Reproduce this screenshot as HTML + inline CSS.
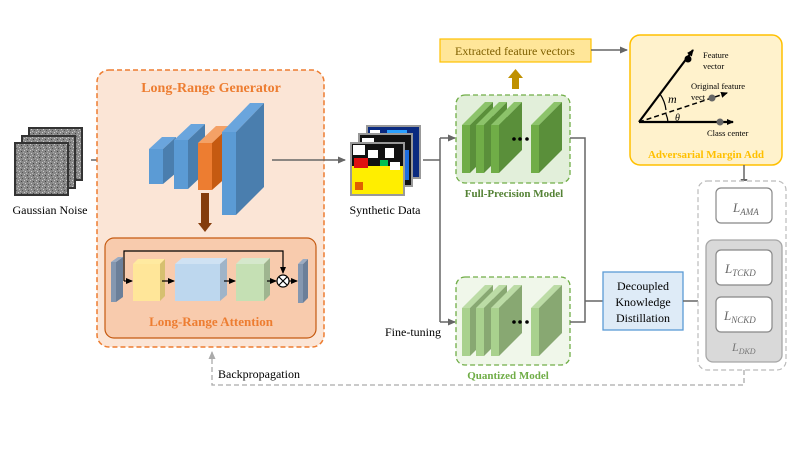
<!DOCTYPE html>
<html><head><meta charset="utf-8"><style>
html,body{margin:0;padding:0;background:#fff}
svg{display:block}
text{font-family:"Liberation Serif",serif}
</style></head><body>
<svg width="797" height="449" viewBox="0 0 797 449" xmlns="http://www.w3.org/2000/svg">
<defs>
<marker id="ag" markerWidth="8" markerHeight="8" refX="7" refY="4" orient="auto" markerUnits="userSpaceOnUse"><path d="M0,0.5 L8,4 L0,7.5z" fill="#666"/></marker>
<marker id="ak" markerWidth="7" markerHeight="7" refX="6" refY="3.5" orient="auto" markerUnits="userSpaceOnUse"><path d="M0,0.5 L7,3.5 L0,6.5z" fill="#000"/></marker>
<marker id="al" markerWidth="8" markerHeight="8" refX="7" refY="4" orient="auto" markerUnits="userSpaceOnUse"><path d="M0,0.5 L8,4 L0,7.5z" fill="#aaa"/></marker>
<pattern id="noise" width="6" height="6" patternUnits="userSpaceOnUse"><rect width="6" height="6" fill="#888"/><rect x="0" y="0" width="1" height="1" fill="#ccc"/><rect x="3" y="1" width="1" height="1" fill="#444"/><rect x="1" y="3" width="1" height="1" fill="#ccc"/><rect x="4" y="4" width="1" height="1" fill="#555"/><rect x="2" y="5" width="1" height="1" fill="#bbb"/><rect x="5" y="2" width="1" height="1" fill="#aaa"/></pattern>
</defs>

<!-- Gaussian noise -->
<rect x="29" y="128" width="53" height="52" fill="url(#noise)" stroke="#333" stroke-width="2"/>
<rect x="22" y="136" width="53" height="52" fill="url(#noise)" stroke="#333" stroke-width="2"/>
<rect x="15" y="143" width="53" height="52" fill="url(#noise)" stroke="#333" stroke-width="2"/>
<text x="50" y="214" font-size="12" text-anchor="middle">Gaussian Noise</text>
<line x1="91" y1="160" x2="145" y2="160" stroke="#666" stroke-width="1.5" marker-end="url(#ag)"/>

<!-- Generator -->
<rect x="97" y="70" width="227" height="277" rx="12" fill="#fbe5d6" stroke="#ed7d31" stroke-width="1.5" stroke-dasharray="5,3"/>
<text x="211" y="92" font-size="14" font-weight="bold" fill="#ed7d31" text-anchor="middle">Long-Range Generator</text>
<polygon points="149,149 163,149 176,137 162,137" fill="#6aa5dd"/>
<polygon points="163,149 176,137 176,173 163,184" fill="#4a7eae"/>
<rect x="149" y="149" width="14" height="35" fill="#5b9bd5"/>
<polygon points="174,140 188,140 205,124 191,124" fill="#6aa5dd"/>
<polygon points="188,140 205,124 205,173 188,189" fill="#4a7eae"/>
<rect x="174" y="140" width="14" height="49" fill="#5b9bd5"/>
<polygon points="198,143 212,143 230,126 216,126" fill="#f4a166"/>
<polygon points="212,143 230,126 230,174 212,190" fill="#c55a11"/>
<rect x="198" y="143" width="14" height="47" fill="#ed7d31"/>
<polygon points="222,132 236,132 264,103 250,103" fill="#6aa5dd"/>
<polygon points="236,132 264,103 264,187 236,215" fill="#4a7eae"/>
<rect x="222" y="132" width="14" height="83" fill="#5b9bd5"/>
<rect x="201" y="193" width="8" height="30" fill="#843c0c"/>
<polygon points="198,223 212,223 205,232" fill="#843c0c"/>
<line x1="272" y1="160" x2="345" y2="160" stroke="#666" stroke-width="1.5" marker-end="url(#ag)"/>

<!-- Attention -->
<rect x="105" y="238" width="211" height="100" rx="9" fill="#f8cbad" stroke="#c55a11" stroke-width="1.2"/>
<rect x="111" y="262" width="5" height="40" fill="#8497b0"/><polygon points="116,262 123,257 123,297 116,302" fill="#6b7f99"/><polygon points="111,262 116,262 123,257 118,257" fill="#9aabc2"/>
<polygon points="133,264 160,264 165,259 138,259" fill="#ffeaa0"/>
<rect x="133" y="264" width="27" height="37" fill="#ffe699"/><polygon points="160,264 165,259 165,296 160,301" fill="#d6c070"/>
<polygon points="175,264 220,264 227,258 182,258" fill="#cfe2f3"/>
<rect x="175" y="264" width="45" height="37" fill="#bdd7ee"/><polygon points="220,264 227,258 227,295 220,301" fill="#9fb4c8"/>
<polygon points="236,264 264,264 270,258 242,258" fill="#d5e8cc"/>
<rect x="236" y="264" width="28" height="37" fill="#c5e0b4"/><polygon points="264,264 270,258 270,295 264,301" fill="#9fb590"/>
<rect x="298" y="264" width="5" height="39" fill="#8497b0"/><polygon points="303,264 308,259 308,298 303,303" fill="#6b7f99"/><polygon points="298,264 303,264 308,259 303,259" fill="#9aabc2"/>
<polyline points="124,281 124,251 283,251 283,273" fill="none" stroke="#000" stroke-width="1.2" marker-end="url(#ak)"/>
<line x1="124" y1="281" x2="132" y2="281" stroke="#000" stroke-width="1.2" marker-end="url(#ak)"/>
<line x1="162" y1="281" x2="174" y2="281" stroke="#000" stroke-width="1.2" marker-end="url(#ak)"/>
<line x1="224" y1="281" x2="235" y2="281" stroke="#000" stroke-width="1.2" marker-end="url(#ak)"/>
<line x1="267" y1="281" x2="276" y2="281" stroke="#000" stroke-width="1.2" marker-end="url(#ak)"/>
<circle cx="283" cy="281" r="6" fill="#fff" stroke="#000" stroke-width="1.2"/>
<path d="M279,277 L287,285 M287,277 L279,285" stroke="#000" stroke-width="1.2"/>
<line x1="289" y1="281" x2="297" y2="281" stroke="#000" stroke-width="1.2" marker-end="url(#ak)"/>
<text x="211" y="326" font-size="13" font-weight="bold" fill="#ed7d31" text-anchor="middle">Long-Range Attention</text>

<!-- Synthetic data -->
<rect x="367" y="126" width="53" height="52" fill="#0a2a80" stroke="#999" stroke-width="2"/>
<rect x="387" y="130" width="20" height="20" fill="#2aa0ff"/><rect x="370" y="130" width="10" height="8" fill="#fff"/>
<rect x="359" y="134" width="53" height="52" fill="#111" stroke="#999" stroke-width="2"/>
<rect x="362" y="138" width="12" height="8" fill="#fff"/><rect x="395" y="150" width="14" height="30" fill="#1e6fe0"/>
<rect x="351" y="143" width="53" height="52" fill="#ffee00" stroke="#999" stroke-width="2"/>
<rect x="352" y="144" width="51" height="22" fill="#111"/>
<rect x="353" y="145" width="12" height="10" fill="#fff"/><rect x="368" y="150" width="10" height="8" fill="#fff"/><rect x="385" y="148" width="9" height="10" fill="#fff"/>
<rect x="354" y="158" width="14" height="10" fill="#e01010"/><rect x="380" y="160" width="8" height="6" fill="#00c050"/><rect x="390" y="162" width="10" height="8" fill="#fff"/>
<rect x="355" y="182" width="8" height="8" fill="#e06000"/>
<text x="385" y="214" font-size="12" text-anchor="middle">Synthetic Data</text>

<polyline points="423,160 440,160" fill="none" stroke="#666" stroke-width="1.5"/>
<line x1="440" y1="138" x2="440" y2="322" stroke="#666" stroke-width="1.5"/>
<line x1="440" y1="138" x2="455" y2="138" stroke="#666" stroke-width="1.5" marker-end="url(#ag)"/>
<line x1="440" y1="322" x2="455" y2="322" stroke="#666" stroke-width="1.5" marker-end="url(#ag)"/>
<text x="385" y="336" font-size="12">Fine-tuning</text>

<!-- Full precision -->
<rect x="456" y="95" width="114" height="88" rx="9" fill="#e2efda" stroke="#70ad47" stroke-width="1.3" stroke-dasharray="5,3"/>
<g id="fp">
<polygon points="462,125 470,125 493,102 485,102" fill="#8cc36a"/><polygon points="470,125 493,102 493,150 470,173" fill="#5a8f3a"/><rect x="462" y="125" width="8" height="48" fill="#70ad47"/>
<polygon points="476,125 484,125 507,102 499,102" fill="#8cc36a"/><polygon points="484,125 507,102 507,150 484,173" fill="#5a8f3a"/><rect x="476" y="125" width="8" height="48" fill="#70ad47"/>
<polygon points="491,125 499,125 522,102 514,102" fill="#8cc36a"/><polygon points="499,125 522,102 522,150 499,173" fill="#5a8f3a"/><rect x="491" y="125" width="8" height="48" fill="#70ad47"/>
<polygon points="531,125 539,125 562,102 554,102" fill="#8cc36a"/><polygon points="539,125 562,102 562,150 539,173" fill="#5a8f3a"/><rect x="531" y="125" width="8" height="48" fill="#70ad47"/>
</g>
<circle cx="514" cy="139" r="1.8" fill="#000"/><circle cx="520" cy="139" r="1.8" fill="#000"/><circle cx="527" cy="139" r="1.8" fill="#000"/>
<text x="514" y="197" font-size="11" font-weight="bold" fill="#548235" text-anchor="middle">Full-Precision Model</text>

<!-- Quantized -->
<rect x="456" y="277" width="114" height="88" rx="9" fill="#f0f7ea" stroke="#70ad47" stroke-width="1.3" stroke-dasharray="5,3"/>
<g>
<polygon points="462,308 470,308 493,285 485,285" fill="#bcdca6"/><polygon points="470,308 493,285 493,333 470,356" fill="#88a872"/><rect x="462" y="308" width="8" height="48" fill="#a9d18e"/>
<polygon points="476,308 484,308 507,285 499,285" fill="#bcdca6"/><polygon points="484,308 507,285 507,333 484,356" fill="#88a872"/><rect x="476" y="308" width="8" height="48" fill="#a9d18e"/>
<polygon points="491,308 499,308 522,285 514,285" fill="#bcdca6"/><polygon points="499,308 522,285 522,333 499,356" fill="#88a872"/><rect x="491" y="308" width="8" height="48" fill="#a9d18e"/>
<polygon points="531,308 539,308 562,285 554,285" fill="#bcdca6"/><polygon points="539,308 562,285 562,333 539,356" fill="#88a872"/><rect x="531" y="308" width="8" height="48" fill="#a9d18e"/>
</g>
<circle cx="514" cy="322" r="1.8" fill="#000"/><circle cx="520" cy="322" r="1.8" fill="#000"/><circle cx="527" cy="322" r="1.8" fill="#000"/>
<text x="508" y="379" font-size="11" font-weight="bold" fill="#70ad47" text-anchor="middle">Quantized Model</text>

<!-- Extracted -->
<rect x="440" y="39" width="151" height="23" fill="#ffe699" stroke="#ffc000" stroke-width="1.2"/>
<text x="515" y="55" font-size="12" fill="#7f6000" text-anchor="middle">Extracted feature vectors</text>
<rect x="512" y="77" width="7" height="12" fill="#bf9000"/><polygon points="508,78 523,78 515.5,69" fill="#bf9000"/>
<line x1="591" y1="50" x2="627" y2="50" stroke="#666" stroke-width="1.5" marker-end="url(#ag)"/>

<!-- AMA -->
<rect x="630" y="35" width="152" height="130" rx="10" fill="#fff2cc" stroke="#ffc000" stroke-width="1.5"/>
<line x1="639" y1="122" x2="693" y2="50" stroke="#000" stroke-width="2.2" marker-end="url(#ak)"/>
<circle cx="688" cy="59" r="3.5" fill="#000"/>
<line x1="639" y1="122" x2="727" y2="93" stroke="#000" stroke-width="1.5" stroke-dasharray="5,3" marker-end="url(#ak)"/>
<circle cx="712" cy="98" r="3.5" fill="#666"/>
<line x1="639" y1="122" x2="733" y2="122" stroke="#000" stroke-width="2.2" marker-end="url(#ak)"/>
<circle cx="720" cy="122" r="3.5" fill="#666"/>
<path d="M660,94 A36,36 0 0 1 666,110" fill="none" stroke="#000" stroke-width="1.2"/>
<path d="M666,114 A28,28 0 0 1 668,122" fill="none" stroke="#000" stroke-width="1.2"/>
<text x="668" y="103" font-size="12" font-style="italic">m</text>
<text x="675" y="121" font-size="10" font-style="italic">θ</text>
<text x="703" y="58" font-size="8.5">Feature</text>
<text x="703" y="69" font-size="8.5">vector</text>
<text x="691" y="89" font-size="8.5">Original feature</text>
<text x="691" y="100" font-size="8.5">vect</text>
<text x="707" y="136" font-size="8.5">Class center</text>
<text x="706" y="158" font-size="11" font-weight="bold" fill="#ffc000" text-anchor="middle">Adversarial Margin Add</text>
<line x1="744" y1="165" x2="744" y2="186" stroke="#666" stroke-width="1.5" marker-end="url(#ag)"/>

<!-- connectors to DKD -->
<polyline points="570,138 585,138 585,322 570,322" fill="none" stroke="#666" stroke-width="1.5"/>
<line x1="585" y1="301" x2="603" y2="301" stroke="#666" stroke-width="1.5"/>
<rect x="603" y="272" width="80" height="58" fill="#deebf7" stroke="#5b9bd5" stroke-width="1.3"/>
<text x="643" y="290" font-size="12" text-anchor="middle">Decoupled</text>
<text x="643" y="306" font-size="12" text-anchor="middle">Knowledge</text>
<text x="643" y="322" font-size="12" text-anchor="middle">Distillation</text>
<line x1="683" y1="301" x2="705" y2="301" stroke="#666" stroke-width="1.5" marker-end="url(#ag)"/>

<!-- losses -->
<rect x="698" y="181" width="88" height="189" rx="9" fill="#fff" stroke="#bbb" stroke-width="1.2" stroke-dasharray="5,3"/>
<rect x="716" y="188" width="56" height="35" rx="5" fill="#fff" stroke="#888" stroke-width="1.2"/>
<text x="733" y="212" font-size="13" fill="#666" font-style="italic">L<tspan font-size="9" dy="3">AMA</tspan></text>
<rect x="706" y="240" width="76" height="122" rx="7" fill="#d9d9d9" stroke="#a6a6a6" stroke-width="1.3"/>
<rect x="716" y="250" width="56" height="35" rx="5" fill="#fff" stroke="#888" stroke-width="1.2"/>
<text x="725" y="273" font-size="13" fill="#666" font-style="italic">L<tspan font-size="9" dy="3">TCKD</tspan></text>
<rect x="716" y="297" width="56" height="35" rx="5" fill="#fff" stroke="#888" stroke-width="1.2"/>
<text x="724" y="320" font-size="13" fill="#666" font-style="italic">L<tspan font-size="9" dy="3">NCKD</tspan></text>
<text x="732" y="351" font-size="12" fill="#777" font-style="italic">L<tspan font-size="8" dy="3">DKD</tspan></text>

<!-- backprop -->
<polyline points="744,370 744,385 212,385 212,352" fill="none" stroke="#aaa" stroke-width="1.3" stroke-dasharray="5,3" marker-end="url(#al)"/>
<text x="218" y="378" font-size="12">Backpropagation</text>
</svg>
</body></html>
